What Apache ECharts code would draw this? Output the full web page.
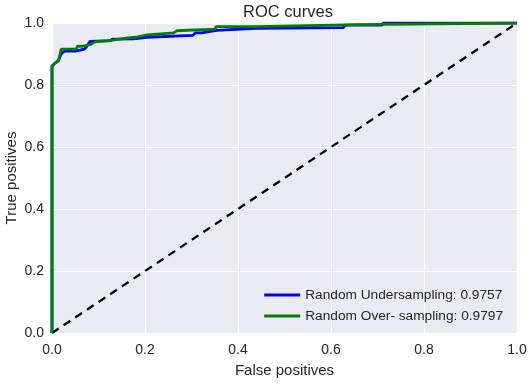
<!DOCTYPE html>
<html>
<head>
<meta charset="utf-8">
<script src="https://cdn.jsdelivr.net/npm/echarts@6/dist/echarts.min.js"></script>
<style>html,body{margin:0;padding:0;background:#fff}#c{width:531px;height:386px}</style>
</head>
<body>
<div id="c"></div>
<script>
var title = 'ROC curves';
var xName = 'False positives';
var yName = 'True positives';
var seriesNames = ['Random Undersampling: 0.9757', 'Random Over- sampling: 0.9797'];
var tickValues = [0, 0.2, 0.4, 0.6, 0.8, 1.0];
var underFpr = [0,0,0.006,0.013,0.02,0.026,0.05,0.054,0.07,0.075,0.082,0.125,0.13,0.176,0.18,0.204,0.206,0.303,0.308,0.322,0.325,0.354,0.356,0.44,0.442,0.627,0.63,0.71,0.712,1];
var underTpr = [0,0.86,0.87,0.878,0.9,0.909,0.909,0.914,0.916,0.925,0.941,0.943,0.948,0.949,0.952,0.954,0.958,0.96,0.968,0.968,0.973,0.976,0.981,0.983,0.985,0.985,0.993,0.993,1.0,1.0];
var overFpr = [0,0,0.008,0.014,0.02,0.052,0.055,0.066,0.068,0.085,0.092,0.124,0.128,0.163,0.18,0.182,0.204,0.206,0.262,0.268,0.35,0.353,0.44,0.442,0.658,0.66,1];
var overTpr = [0,0.862,0.872,0.878,0.916,0.916,0.925,0.925,0.93,0.932,0.939,0.943,0.949,0.952,0.954,0.96,0.962,0.968,0.968,0.975,0.98,0.988,0.988,0.994,0.995,1.0,1.0];
var chanceFpr = [0, 1];
var chanceTpr = [0, 1];

function zip(a, b) { return a.map(function (v, i) { return [v, b[i]]; }); }

var chart = echarts.init(document.getElementById('c'), null, {renderer: 'canvas'});
var font = 'Liberation Sans, Arial, sans-serif';
chart.setOption({
  animation: false,
  title: {text: title, left: 283, top: -1, textAlign: 'center',
    textStyle: {fontFamily: font, fontSize: 16.5, fontWeight: 'normal', color: '#262626'}},
  grid: {left: 52, right: 14, top: 23, bottom: 53, show: true, backgroundColor: '#EAEAF2', borderWidth: 0,
    containLabel: false, outerBoundsMode: 'none'},
  xAxis: {type: 'value', min: 0, max: 1, interval: 0.2, name: xName, nameLocation: 'middle', nameGap: 30,
    nameMoveOverlap: false,
    nameTextStyle: {fontFamily: font, fontSize: 15, color: '#262626'},
    axisLine: {show: false}, axisTick: {show: false},
    axisLabel: {fontFamily: font, fontSize: 14, color: '#262626', margin: 10, formatter: function (v) { return v.toFixed(1); }},
    splitLine: {show: true, lineStyle: {color: '#ffffff', width: 1.2}}},
  yAxis: {type: 'value', min: 0, max: 1, interval: 0.2, name: yName, nameLocation: 'middle', nameGap: 33,
    nameMoveOverlap: false,
    nameTextStyle: {fontFamily: font, fontSize: 15, color: '#262626'},
    axisLine: {show: false}, axisTick: {show: false},
    axisLabel: {fontFamily: font, fontSize: 14, color: '#262626', margin: 8, formatter: function (v) { return v.toFixed(1); }},
    splitLine: {show: true, lineStyle: {color: '#ffffff', width: 1.2}}},
  legend: {orient: 'vertical', right: 23, top: 283, itemWidth: 36, itemHeight: 3, itemGap: 7, icon: 'rect',
    data: seriesNames,
    textStyle: {fontFamily: font, fontSize: 13.7, color: '#262626', padding: [0, 0, 0, 0]}},
  series: [
    {name: 'chance', type: 'line', data: zip(chanceFpr, chanceTpr), showSymbol: false, silent: true,
      lineStyle: {color: '#000', width: 2.3, type: [8, 6]}, z: 1},
    {name: seriesNames[0], type: 'line', data: zip(underFpr, underTpr), showSymbol: false,
      lineStyle: {color: '#0000ff', width: 2.8}, itemStyle: {color: '#0000ff'}, z: 2},
    {name: seriesNames[1], type: 'line', data: zip(overFpr, overTpr), showSymbol: false,
      lineStyle: {color: '#008000', width: 2.8}, itemStyle: {color: '#008000'}, z: 3}
  ]
});
</script>
</body>
</html>
